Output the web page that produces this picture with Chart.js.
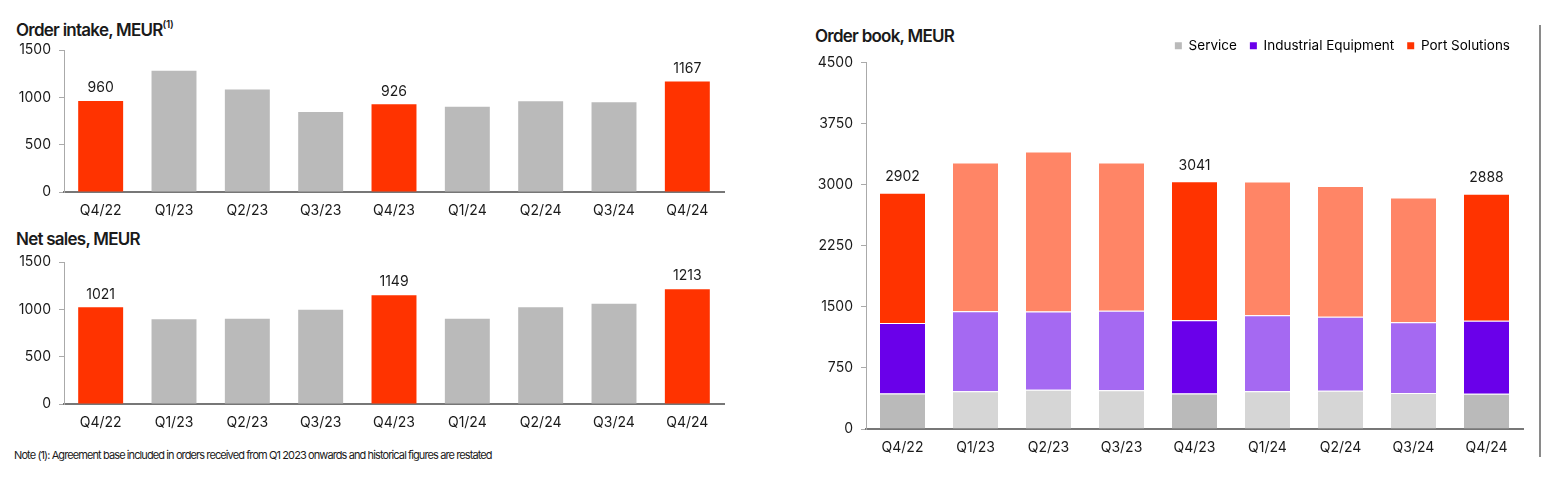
<!DOCTYPE html>
<html>
<head>
<meta charset="utf-8">
<script src="https://cdn.jsdelivr.net/npm/chart.js@4.4.1/dist/chart.umd.min.js"></script>
<style>
  body { margin: 0; background: #fff; width: 1561px; height: 487px; position: relative; overflow: hidden; font-family: Inter, sans-serif; color: #1a1a1a; }
  .box { position: absolute; }
  .title { position: absolute; font-size: 17px; font-weight: 600; letter-spacing: -0.75px; line-height: 20px; white-space: nowrap; }
  .title sup { font-size: 10px; letter-spacing: -0.3px; position: relative; top: -1px; }
  .note { position: absolute; left: 14px; top: 449px; font-size: 11px; letter-spacing: -0.9px; line-height: 13px; white-space: nowrap; }
  .divider { position: absolute; left: 1539px; top: 25px; width: 2px; height: 432px; background: #8a8a8a; }
</style>
</head>
<body>
<div class="title" style="left:16px; top:15px;">Order intake, MEUR<sup>(1)</sup></div>
<div class="title" style="left:16px; top:229px;">Net sales, MEUR</div>
<div class="title" style="left:815px; top:26px;">Order book, MEUR</div>
<div class="note">Note (1): Agreement base included in orders received from Q1 2023 onwards and historical figures are restated</div>
<div class="divider"></div>

<div class="box" style="left:0; top:30px; width:740px; height:200px;"><canvas id="intake"></canvas></div>
<div class="box" style="left:0; top:242px; width:740px; height:200px;"><canvas id="sales"></canvas></div>
<div class="box" style="left:790px; top:25px; width:750px; height:450px;"><canvas id="book"></canvas></div>

<script>
const quarters = ["Q4/22", "Q1/23", "Q2/23", "Q3/23", "Q4/23", "Q1/24", "Q2/24", "Q3/24", "Q4/24"];
const highlighted = [0, 4, 8];

const orderIntake = [960, 1281, 1084, 845, 926, 901, 958, 947, 1167];
const netSales = [1021, 895, 900, 995, 1149, 900, 1022, 1058, 1213];

const bookService = [437, 462, 482, 475, 437, 462, 470, 441, 433];
const bookIndustrial = [866, 984, 961, 976, 898, 935, 907, 869, 895];
const bookPort = [1599, 1826, 1963, 1821, 1706, 1643, 1607, 1533, 1560];
const bookTotals = [2902, 3272, 3406, 3272, 3041, 3040, 2984, 2843, 2888];

const seriesNames = ["Service", "Industrial Equipment", "Port Solutions"];

const RED = "#ff3300", RED_LIGHT = "#ff8566";
const GREY = "#bababa", GREY_LIGHT = "#d6d6d6";
const PURPLE = "#6a00ea", PURPLE_LIGHT = "#a569f2";

const FONT = "Inter";
const TEXT = "#1a1a1a";

const pick = (strong, light) => quarters.map((q, i) => highlighted.includes(i) ? strong : light);

// draws the value above the highlighted bars (top of the stack for stacked charts)
const valueLabels = {
  id: "valueLabels",
  afterDatasetsDraw(chart, args, opts) {
    const ctx = chart.ctx;
    const metas = chart.getSortedVisibleDatasetMetas();
    const top = metas[metas.length - 1];
    ctx.save();
    ctx.font = "14px " + FONT;
    ctx.fillStyle = TEXT;
    ctx.textAlign = "center";
    ctx.textBaseline = "middle";
    opts.indices.forEach(i => {
      const el = top.data[i];
      ctx.fillText(String(opts.values[i]), el.x, el.y - opts.offset);
    });
    ctx.restore();
  }
};

function axes(max, step, yWidth, xHeight) {
  return {
    x: {
      stacked: true,
      grid: { display: false, drawTicks: false },
      border: { display: true, color: "#777", width: 2 },
      ticks: { color: TEXT, font: { family: FONT, size: 14 }, padding: 10 },
      afterFit: s => { s.height = xHeight; }
    },
    y: {
      stacked: true,
      min: 0,
      max: max,
      grid: { drawOnChartArea: false, drawTicks: true, tickLength: 5, color: "#aaa" },
      border: { display: true, color: "#aaa", width: 1 },
      ticks: {
        stepSize: step,
        color: TEXT,
        font: { family: FONT, size: 14 },
        padding: 8,
        callback: v => String(v)
      },
      afterFit: s => { s.width = yWidth; }
    }
  };
}

function simpleBars(canvas, values) {
  return new Chart(canvas, {
    type: "bar",
    data: {
      labels: quarters,
      datasets: [{
        data: values,
        backgroundColor: pick(RED, GREY),
        barPercentage: 0.613,
        categoryPercentage: 1
      }]
    },
    options: {
      responsive: true,
      maintainAspectRatio: false,
      animation: false,
      layout: { padding: { top: 20, right: 16, left: 0, bottom: 0 } },
      plugins: {
        legend: { display: false },
        tooltip: { enabled: false },
        valueLabels: { indices: highlighted, values: values, offset: 13 }
      },
      scales: axes(1500, 500, 64, 38)
    },
    plugins: [valueLabels]
  });
}

simpleBars(document.getElementById("intake"), orderIntake);
simpleBars(document.getElementById("sales"), netSales);

const legendColors = [GREY, PURPLE, RED];

new Chart(document.getElementById("book"), {
  type: "bar",
  data: {
    labels: quarters,
    datasets: [
      { label: seriesNames[0], data: bookService, backgroundColor: pick(GREY, GREY_LIGHT) },
      { label: seriesNames[1], data: bookIndustrial, backgroundColor: pick(PURPLE, PURPLE_LIGHT) },
      { label: seriesNames[2], data: bookPort, backgroundColor: pick(RED, RED_LIGHT) }
    ].map(d => Object.assign(d, {
      borderColor: "rgba(255,255,255,0.85)",
      borderWidth: { top: 1 },
      borderSkipped: "bottom",
      barPercentage: 0.617,
      categoryPercentage: 1
    }))
  },
  options: {
    responsive: true,
    maintainAspectRatio: false,
    animation: false,
    layout: { padding: { top: 1, right: 17, left: 0, bottom: 0 } },
    plugins: {
      legend: {
        display: true,
        position: "top",
        align: "end",
        labels: {
          boxWidth: 7,
          boxHeight: 7,
          padding: 13,
          color: TEXT,
          font: { family: FONT, size: 13.5 },
          generateLabels: () => seriesNames.map((name, i) => ({
            text: name,
            fillStyle: legendColors[i],
            strokeStyle: legendColors[i],
            lineWidth: 0,
            datasetIndex: i
          }))
        }
      },
      tooltip: { enabled: false },
      valueLabels: { indices: highlighted, values: bookTotals, offset: 16 }
    },
    scales: axes(4500, 750, 76, 46)
  },
  plugins: [valueLabels]
});
</script>
</body>
</html>
